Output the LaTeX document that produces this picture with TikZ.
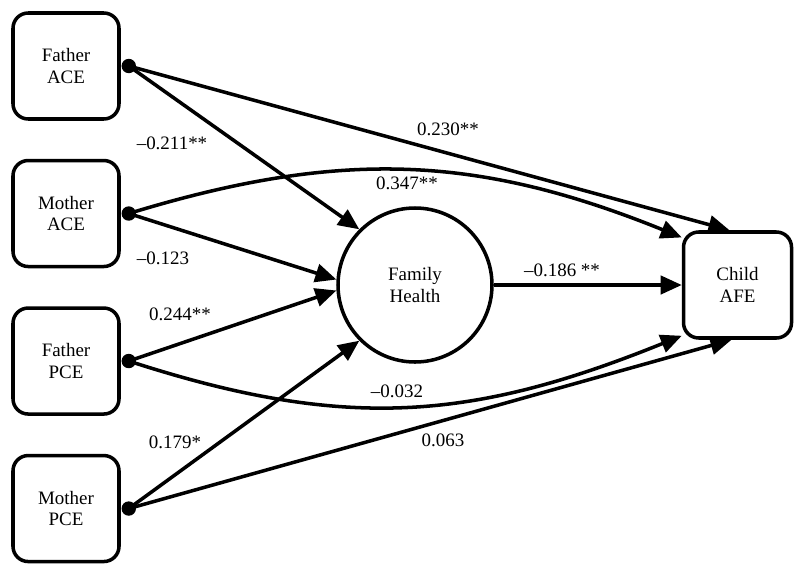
\documentclass[tikz,border=0pt]{standalone}
\usepackage{fontspec}
\setmainfont{Liberation Serif}
\usepackage{tikz}
\usetikzlibrary{arrows.meta,calc,positioning}

\newcommand{\diagfont}{\fontsize{13.5}{15.5}\selectfont}

\begin{document}
\begin{tikzpicture}[->,>={Triangle[length=15pt,width=13pt]},line width=2.5pt,node distance=0.95cm,
		obs node/.style={rectangle, draw, rounded corners=0.38cm, minimum width=2.65cm, minimum height=2.65cm, align=center, font=\diagfont},
		latent node/.style={circle, draw, minimum size=3.85cm, align=center, font=\diagfont},
		coef node/.style={font=\diagfont, inner sep=1pt}]

	\useasboundingbox (0,0) rectangle (19.975,-14.4);

	\node[obs node] (fa) at (1.65,-1.65) {Father\\ACE};
	\node[obs node] (ma) [below=of fa] {Mother\\ACE};
	\node[obs node] (fp) [below=of ma] {Father\\PCE};
	\node[obs node] (mp) [below=of fp] {Mother\\PCE};
	\node[latent node] (fh) at (10.375,-7.125) {Family\\Health};
	\node[obs node, minimum width=2.7cm] (ca) [right=4.7cm of fh] {Child\\AFE};

	\coordinate[right=0.2cm of fa.east] (fad);
	\coordinate[right=0.2cm of ma.east] (mad);
	\coordinate[right=0.2cm of fp.east] (fpd);
	\coordinate[right=0.2cm of mp.east] (mpd);

		\path	(fad)	edge[] ([xshift=-0.2cm]ca.north)
						edge[] (fh.135);
		\path	(mad)	edge[out=17, in=158, looseness=1.02] ([yshift=-0.18cm]ca.north west)
						edge[] (fh.176);
		\path	(fpd)	edge[] (fh.184)
						edge[out=-18, in=202, looseness=1.05] ([yshift=0.1cm]ca.south west);
		\path	(mpd)	edge[] (fh.225)
						edge[] ([xshift=-0.15cm]ca.south);
		\path	(fh)	edge[] (ca);

	\fill (fad) circle (0.18cm);
	\fill (mad) circle (0.18cm);
	\fill (fpd) circle (0.18cm);
	\fill (mpd) circle (0.18cm);

	% path coefficients
	\node[coef node] (c1) at (4.3,-3.575) {--0.211**};
	\node[coef node] (c2) at (11.2,-3.225) {0.230**};
	\node[coef node] (c3) at (10.175,-4.575) {0.347**};
	\node[coef node] (c4) at (4.075,-6.45) {--0.123};
	\node[coef node] (c5) at (14.05,-6.75) {--0.186 **};
	\node[coef node] (c6) at (4.5,-7.85) {0.244**};
	\node[coef node] (c7) at (9.925,-9.775) {--0.032};
	\node[coef node] (c8) at (4.375,-11.05) {0.179*};
	\node[coef node] (c9) at (11.075,-11.0) {0.063};
\end{tikzpicture}
\end{document}
